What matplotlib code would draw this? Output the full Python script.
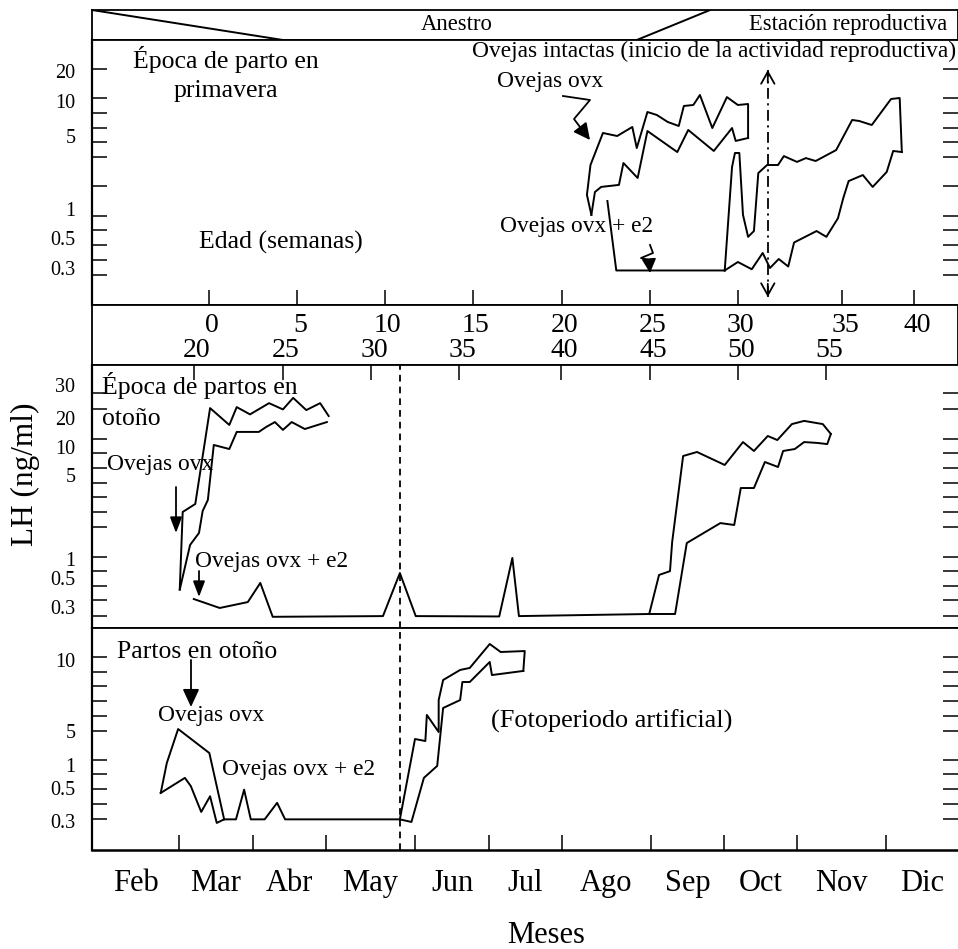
import numpy as np
import matplotlib
matplotlib.use("Agg")
import matplotlib.pyplot as plt
import matplotlib.transforms as mtransforms
from matplotlib.lines import Line2D
from matplotlib.patches import FancyArrowPatch

plt.rcParams['font.family'] = ['Liberation Serif', 'DejaVu Serif']

W, H = 958, 949  # figure size in px

# ---------------------------------------------------------------- data
meses = ['Feb', 'Mar', 'Abr', 'May', 'Jun', 'Jul', 'Ago', 'Sep', 'Oct', 'Nov', 'Dic']

# age in weeks, and where each week sits on the month axis (0 = start of Feb)
semanas_sup = [0, 5, 10, 15, 20, 25, 30, 35, 40]
semanas_sup_mes = [1.41, 2.60, 3.66, 4.78, 6.00, 6.99, 8.19, 9.51, 10.39]
semanas_inf = [20, 25, 30, 35, 40, 45, 50, 55]
semanas_inf_mes = [1.20, 2.41, 3.51, 4.60, 5.99, 6.99, 8.19, 9.33]

# season transitions in the top band (month at top edge, month at bottom edge)
anestro_mes = [0.0, 2.41]
estacion_mes = [7.81, 6.84]

fotoperiodo_mes = 3.83        # dashed line
inicio_actividad_mes = 8.60   # dash-dot arrow

# --- spring lambing (LH ng/ml)
prim_ovx_sup_x = [6.33, 6.28, 6.32, 6.46, 6.62, 6.79, 6.84, 6.96, 7.08, 7.23, 7.38, 7.45, 7.58, 7.67,
                  7.84, 8.04, 8.19, 8.33, 8.33]
prim_ovx_sup_y = [0.9, 1.77, 3.41, 5.43, 5.0, 6.29, 4.34, 8.43, 8.0, 7.0, 6.43, 9.29, 9.43, 12.0,
                  6.14, 11.3, 9.43, 9.57, 4.89]
prim_ovx_inf_x = [6.33, 6.37, 6.44, 6.64, 6.69, 6.85, 6.96, 7.36, 7.51, 7.86, 8.11, 8.16, 8.33]
prim_ovx_inf_y = [0.9, 1.93, 2.21, 2.32, 3.52, 2.70, 5.71, 4.12, 5.86, 4.18, 6.14, 4.73, 4.89]
prim_e2_x = [6.51, 6.61, 8.01]
prim_e2_y = [1.44, 0.28, 0.28]
prim_int_sup_x = [8.01, 8.11, 8.15, 8.21, 8.26, 8.33, 8.41, 8.47, 8.59, 8.74, 8.82, 9.0, 9.10, 9.21,
                  9.44, 9.62, 9.70, 9.84, 10.07, 10.19, 10.22]
prim_int_sup_y = [0.28, 3.30, 4.07, 4.07, 0.90, 0.52, 0.62, 2.97, 3.41, 3.41, 3.90, 3.58, 3.79, 3.63,
                  4.23, 7.29, 7.14, 6.57, 10.67, 11.0, 4.12]
prim_int_inf_x = [8.01, 8.19, 8.38, 8.53, 8.63, 8.75, 8.88, 8.96, 9.22, 9.33, 9.46, 9.52, 9.58, 9.74,
                  9.85, 10.01, 10.10, 10.22]
prim_int_inf_y = [0.28, 0.34, 0.29, 0.40, 0.30, 0.36, 0.31, 0.47, 0.62, 0.52, 0.84, 1.60, 2.53, 2.86,
                  2.21, 3.03, 4.18, 4.12]

# --- autumn lambing
oto_ovx_sup_x = [1.01, 1.05, 1.22, 1.42, 1.68, 1.78, 1.96, 2.22, 2.41, 2.55, 2.73, 2.92, 3.03]
oto_ovx_sup_y = [0.42, 3.24, 3.62, 23.0, 17.6, 23.3, 21.1, 24.5, 22.6, 26.1, 22.4, 24.5, 20.6]
oto_ovx_inf_x = [1.01, 1.15, 1.27, 1.32, 1.39, 1.47, 1.68, 1.78, 2.08, 2.18, 2.30, 2.41, 2.53, 2.71, 3.01]
oto_ovx_inf_y = [0.42, 1.67, 2.24, 3.29, 3.81, 10.7, 9.64, 15.2, 15.2, 16.9, 18.6, 15.9, 18.6, 16.2, 18.6]
oto_e2_x = [1.20, 1.55, 1.93, 2.10, 2.27, 3.64, 3.83, 4.01, 5.14, 5.32, 5.41, 6.98]
oto_e2_y = [0.355, 0.286, 0.334, 0.466, 0.16, 0.17, 0.63, 0.17, 0.165, 1.05, 0.17, 0.20]
oto_int_sup_x = [6.98, 7.11, 7.26, 7.29, 7.44, 7.63, 8.01, 8.26, 8.41, 8.60, 8.73, 8.93, 9.08, 9.29, 9.38]
oto_int_sup_y = [0.20, 0.58, 0.68, 1.81, 8.39, 9.11, 6.79, 11.7, 9.29, 13.8, 12.4, 17.9, 19.0, 17.9, 14.5]
oto_int_inf_x = [6.98, 7.33, 7.49, 7.95, 8.14, 8.23, 8.41, 8.56, 8.74, 8.81, 8.97, 9.08, 9.23, 9.34, 9.38]
oto_int_inf_y = [0.20, 0.20, 1.76, 2.71, 2.62, 4.38, 4.38, 7.32, 6.43, 9.29, 9.64, 11.7, 11.4, 11.0, 14.5]

# --- autumn lambing, artificial photoperiod
art_ovx_sup_x = [0.79, 0.86, 0.99, 1.41, 1.61]
art_ovx_sup_y = [0.47, 1.24, 5.14, 2.41, 0.31]
art_ovx_inf_x = [0.79, 1.08, 1.16, 1.30, 1.42, 1.51, 1.61]
art_ovx_inf_y = [0.47, 0.72, 0.54, 0.355, 0.45, 0.28, 0.31]
art_e2_x = [1.61, 1.77, 1.88, 1.97, 2.16, 2.33, 2.44, 3.83]
art_e2_y = [0.31, 0.31, 0.49, 0.31, 0.31, 0.41, 0.31, 0.31]
art_luz_sup_x = [3.83, 4.0, 4.14, 4.16, 4.32, 4.32, 4.38, 4.61, 4.74, 5.01, 5.16, 5.49, 5.47]
art_luz_sup_y = [0.31, 4.06, 3.82, 6.13, 4.88, 7.18, 8.59, 9.30, 9.44, 15.0, 12.5, 12.8, 9.23]
art_luz_inf_x = [3.83, 3.96, 4.12, 4.30, 4.38, 4.61, 4.64, 4.74, 5.01, 5.04, 5.47]
art_luz_inf_y = [0.31, 0.29, 0.72, 0.98, 6.62, 7.18, 8.45, 8.45, 9.86, 8.94, 9.23]

# hand-drawn LH axes: labelled value -> height (px) above panel base
esc_sup_val = [0, 0.3, 0.5, 1, 5, 10, 20, 40]
esc_sup_alt = [0, 37, 67, 96, 169, 204, 234, 265]
rot_sup = [0.3, 0.5, 1, 5, 10, 20]
marcas_sup = [235.7, 206.7, 192.3, 177.3, 162.7, 148.3, 119, 89.3, 75, 60, 45, 30]

esc_med_val = [0, 0.3, 0.5, 1, 5, 10, 20, 30, 50]
esc_med_alt = [0, 21, 50, 69, 153, 181, 210, 243, 263]
rot_med = [0.3, 0.5, 1, 5, 10, 20, 30]
marcas_med = [234.7, 218.7, 189, 174.7, 159.7, 145.3, 130.7, 115.7, 100.7, 71.3, 57, 42.3, 28, 12]

esc_inf_val = [0, 0.3, 0.5, 1, 5, 10, 20]
esc_inf_alt = [0, 29, 62, 85, 119, 190, 222]
rot_inf = [0.3, 0.5, 1, 5, 10]
marcas_inf = [193.3, 178.3, 164, 149.3, 134.3, 119.3, 90, 75.7, 60.7, 46, 31]

# month boundaries as drawn (px from left edge of figure)
limites_px = [92, 179, 253, 326, 415, 489, 562, 651, 724, 797, 886, 958]


# ---------------------------------------------------------------- helpers
def funcs(vals, alts):
    vals = np.asarray(vals, float)
    alts = np.asarray(alts, float)
    return (lambda v: np.interp(v, vals, alts), lambda a: np.interp(a, alts, vals))


fx = funcs(range(12), np.array(limites_px) - limites_px[0])

fig = plt.figure(figsize=(W / 100, H / 100), dpi=100)


def caja(top, bottom):
    ax = fig.add_axes([92 / W, 1 - bottom / H, (W - 92) / W, (bottom - top) / H])
    ax.set_xscale('function', functions=fx)
    ax.set_xlim(0, 11)
    for s in ax.spines.values():
        s.set_linewidth(1.3)
    ax.set_xticks([])
    ax.set_xticks([], minor=True)
    return ax


def eje_lh(ax, vals, alts, rot, marcas):
    fwd, inv = funcs(vals, alts)
    ax.set_yscale('function', functions=(fwd, inv))
    ax.set_ylim(vals[0], vals[-1])
    ax.set_yticks(rot, [f'{v:g}' for v in rot])
    ax.set_yticks(inv(np.array(marcas)), minor=True)
    ax.tick_params(axis='y', which='major', length=0, pad=12, labelsize=14.5)
    ax.tick_params(axis='y', which='minor', length=10.5, width=1.1, direction='in',
                   left=True, right=True)
    ax.tick_params(axis='x', which='major', length=10.8, width=1.1, direction='in',
                   labelbottom=False)
    ax.spines['right'].set_visible(False)
    ax.spines['left'].set_linewidth(1.6)


def fpx(x, y):
    return x / W, 1 - y / H


def trazo(puntos, lw=1.3):
    xs = [p[0] / W for p in puntos]
    ys = [1 - p[1] / H for p in puntos]
    fig.add_artist(Line2D(xs, ys, transform=fig.transFigure, color='k', lw=lw))


def flecha(desde, hasta, estilo='-|>', hl=1.0, hw=0.5):
    fig.add_artist(FancyArrowPatch(fpx(*desde), fpx(*hasta), transform=fig.transFigure,
                                   arrowstyle=f'{estilo},head_length={hl},head_width={hw}',
                                   mutation_scale=10, lw=1.3, color='k',
                                   shrinkA=0, shrinkB=0))


def texto(s, x, y, size, ha='left', **kw):
    fig.text(x / W, 1 - y / H, s, fontsize=size, ha=ha, va='baseline', **kw)


linea = dict(color='k', lw=1.4)

# ---------------------------------------------------------------- axes
ax_banda = caja(10, 40)
ax_sup = caja(40, 305)
ax_sem = caja(305, 365)
ax_med = caja(365, 628)
ax_inf = caja(628, 850)

# top band: seasons
ax_banda.set_ylim(0, 1)
ax_banda.set_yticks([])
ax_banda.plot(anestro_mes, [1, 0], **linea)
ax_banda.plot(estacion_mes, [1, 0], **linea)

# week band
ax_sem.set_ylim(0, 1)
ax_sem.set_yticks([])
tr_sem = mtransforms.offset_copy(ax_sem.get_xaxis_transform(), fig, x=3, units='dots')
for s, m in zip(semanas_sup, semanas_sup_mes):
    ax_sem.text(m, (365 - 332) / 60, str(s), transform=tr_sem, ha='center', va='baseline',
                fontsize=20)
for s, m in zip(semanas_inf, semanas_inf_mes):
    ax_sem.text(m, (365 - 357) / 60, str(s), transform=tr_sem, ha='center', va='baseline',
                fontsize=20)

# spring panel
eje_lh(ax_sup, esc_sup_val, esc_sup_alt, rot_sup, marcas_sup)
ax_sup.set_xticks(semanas_sup_mes)
ax_sup.plot(prim_ovx_sup_x, prim_ovx_sup_y, **linea)
ax_sup.plot(prim_ovx_inf_x, prim_ovx_inf_y, **linea)
ax_sup.plot(prim_e2_x, prim_e2_y, **linea)
ax_sup.plot(prim_int_sup_x, prim_int_sup_y, **linea)
ax_sup.plot(prim_int_inf_x, prim_int_inf_y, **linea)
tr_x = ax_sup.get_xaxis_transform()
ax_sup.plot([inicio_actividad_mes] * 2, [0.03, 0.887], transform=tr_x, color='k', lw=1.3,
            ls=(0, (6, 2.5, 1.2, 2.5)))
for a, b in [(0.84, 0.887), (0.08, 0.03)]:
    ax_sup.annotate('', xy=(inicio_actividad_mes, b), xycoords=tr_x,
                    xytext=(inicio_actividad_mes, a), textcoords=tr_x,
                    arrowprops=dict(arrowstyle='->,head_length=0.86,head_width=0.48',
                                    mutation_scale=10, lw=1.3, color='k',
                                    shrinkA=0, shrinkB=0))

# autumn panel
eje_lh(ax_med, esc_med_val, esc_med_alt, rot_med, marcas_med)
ax_med.set_xticks(semanas_inf_mes)
ax_med.tick_params(axis='x', top=True, bottom=False)
ax_med.plot(oto_ovx_sup_x, oto_ovx_sup_y, **linea)
ax_med.plot(oto_ovx_inf_x, oto_ovx_inf_y, **linea)
ax_med.plot(oto_e2_x, oto_e2_y, **linea)
ax_med.plot(oto_int_sup_x, oto_int_sup_y, **linea)
ax_med.plot(oto_int_inf_x, oto_int_inf_y, **linea)
ax_med.axvline(fotoperiodo_mes, color='k', lw=1.3, ls=(0, (3.7, 2.8)))

# artificial photoperiod panel
eje_lh(ax_inf, esc_inf_val, esc_inf_alt, rot_inf, marcas_inf)
ax_inf.set_xticks(range(1, 11), [''] * 10)
ax_inf.set_xticks(np.arange(11) + 0.5, meses, minor=True)
ax_inf.tick_params(axis='x', which='minor', length=0, pad=14, labelsize=22)
ax_inf.tick_params(axis='x', which='major', labelbottom=True)
ax_inf.plot(art_ovx_sup_x, art_ovx_sup_y, **linea)
ax_inf.plot(art_ovx_inf_x, art_ovx_inf_y, **linea)
ax_inf.plot(art_e2_x, art_e2_y, **linea)
ax_inf.plot(art_luz_sup_x, art_luz_sup_y, **linea)
ax_inf.plot(art_luz_inf_x, art_luz_inf_y, **linea)
ax_inf.axvline(fotoperiodo_mes, color='k', lw=1.3, ls=(0, (3.7, 2.8)))
ax_inf.spines['bottom'].set_linewidth(1.8)

# ---------------------------------------------------------------- text
texto('Anestro', 457, 30, 16.3, ha='center')
texto('Estación reproductiva', 947, 30, 16.3, ha='right')
texto('Ovejas intactas (inicio de la actividad reproductiva)', 956, 57, 16.8, ha='right')
texto('Época de parto en', 226, 68, 18.5, ha='center')
texto('primavera', 226, 97, 18.5, ha='center')
texto('Edad (semanas)', 199, 249, 18.5)
texto('Ovejas ovx', 497, 87, 16.8)
texto('Ovejas ovx + e2', 500, 232, 16.8)

texto('Época de partos en', 102, 394, 18.5)
texto('otoño', 102, 425, 18.5)
texto('Ovejas ovx', 107, 470, 16.8)
texto('Ovejas ovx + e2', 195, 567, 16.8)

texto('Partos en otoño', 117, 658, 18.5)
texto('Ovejas ovx', 158, 721, 16.8)
texto('Ovejas ovx + e2', 222, 775, 16.8)
texto('(Fotoperiodo artificial)', 491, 728, 18.9)

fig.text(25 / W, 1 - 474 / H, 'LH (ng/ml)', rotation=90, fontsize=22.5, ha='center', va='center')
texto('Meses', 546, 943, 22, ha='center')

# ---------------------------------------------------------------- arrows
trazo([(563, 96), (590, 100), (574, 119), (580, 127)])
flecha((580, 127), (590, 140), hl=1.0, hw=0.5)
trazo([(650, 245), (653, 253), (641, 258), (649, 260)])
flecha((649, 260), (650, 273), hl=0.85, hw=0.43)
flecha((176, 487), (176, 533), hl=0.95, hw=0.36)
flecha((199, 571), (199, 597), hl=0.95, hw=0.36)
flecha((191, 660), (191, 707), hl=1.08, hw=0.5)

fig.savefig('out.png', dpi=100)
